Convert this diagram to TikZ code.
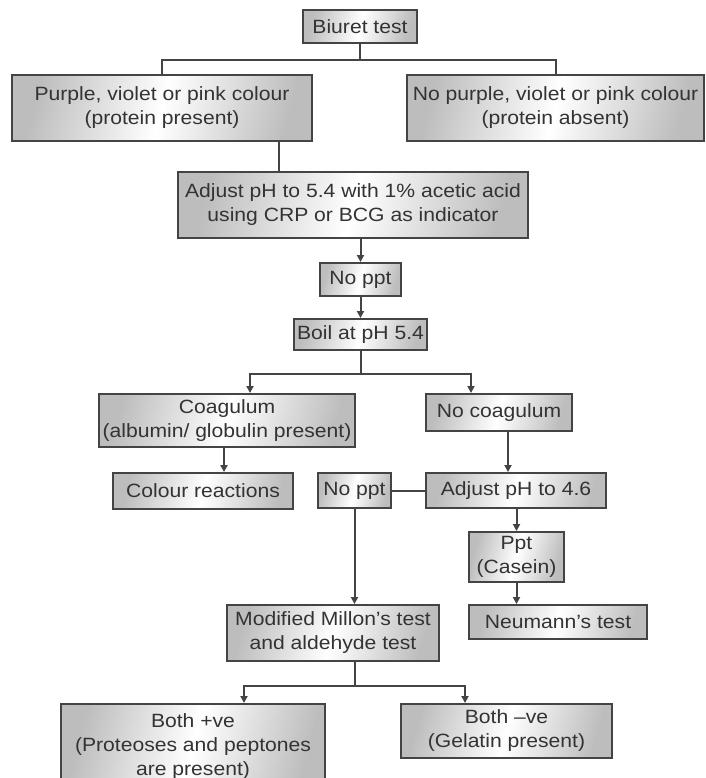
\documentclass[tikz,border=0pt]{standalone}
\usepackage{fontspec}
\setmainfont{Liberation Sans}[FakeStretch=1.1]
\usetikzlibrary{arrows.meta,calc}
\definecolor{txt}{HTML}{333333}
\definecolor{ln}{HTML}{444444}
\definecolor{edgeshade}{HTML}{BDBDBD}
\begin{document}
\begin{tikzpicture}[x=1pt,y=-1pt,
  box/.style={draw=ln, line width=1.9pt, inner sep=0pt, align=center, text=txt,
    font=\fontsize{19.2}{24}\selectfont,
    left color=edgeshade, right color=edgeshade, middle color=white, shading angle=75},
  conn/.style={draw=ln, line width=2pt},
  arr/.style={conn, -{Triangle[length=7pt,width=7pt]}}]
\clip (0,0) rectangle (705,778);
\fill[white] (0,0) rectangle (705,778);

\node[box, minimum width=114, minimum height=33] (biuret) at (360,26.5) {Biuret test};
\node[box, minimum width=300, minimum height=66] (left1) at (162,108) {Purple, violet or pink colour\\(protein present)};
\node[box, minimum width=297, minimum height=66] (right1) at (555.5,108) {No purple, violet or pink colour\\(protein absent)};
\node[box, minimum width=350, minimum height=66] (adjust1) at (353,205) {Adjust pH to 5.4 with 1\% acetic acid\\using CRP or BCG as indicator};
\node[box, minimum width=81, minimum height=33] (noppt1) at (360.5,279.5) {No ppt};
\node[box, minimum width=133, minimum height=31] (boil) at (360.5,334.5) {Boil at pH 5.4};
\node[box, minimum width=256, minimum height=53] (coag) at (227,420.5) {Coagulum\\(albumin/ globulin present)};
\node[box, minimum width=146, minimum height=37] (nocoag) at (499,412.5) {No coagulum};
\node[box, minimum width=180, minimum height=36] (colour) at (203,491) {Colour reactions};
\node[box, minimum width=73, minimum height=35] (noppt2) at (354.5,490.5) {No ppt};
\node[box, minimum width=180, minimum height=35] (adjust2) at (516,490.5) {Adjust pH to 4.6};
\node[box, minimum width=95, minimum height=50] (ppt) at (516.5,557) {Ppt\\(Casein)};
\node[box, minimum width=178, minimum height=34] (neumann) at (558,622) {Neumann’s test};
\node[box, minimum width=212, minimum height=56] (modified) at (333,633) {Modified Millon’s test\\and aldehyde test};
\node[box, minimum width=264, minimum height=85, anchor=north] (bothpos) at (193,703) {Both +ve\\(Proteoses and peptones\\are present)};
\node[box, minimum width=211, minimum height=54] (bothneg) at (506.5,731) {Both –ve\\(Gelatin present)};

\coordinate (j1) at (360,60);
\draw[conn] (biuret.south) -- (j1) -| (left1.north);
\draw[conn] (j1) -| (right1.north);

\coordinate (xA) at (279,0);
\draw[conn] (left1.south -| xA) -- (adjust1.north -| xA);
\draw[arr] (adjust1.south -| noppt1.north) -- (noppt1.north);
\draw[arr] (noppt1.south) -- (boil.north);

\coordinate (j2) at (361,374);
\coordinate (xB) at (250,0);
\coordinate (xC) at (471,0);
\draw[conn] (boil.south -| j2) -- (j2);
\draw[arr] (j2) -| (xB |- coag.north);
\draw[arr] (j2) -| (xC |- nocoag.north);

\coordinate (xD) at (224,0);
\coordinate (xE) at (508,0);
\draw[arr] (coag.south -| xD) -- (colour.north -| xD);
\draw[arr] (nocoag.south -| xE) -- (adjust2.north -| xE);
\draw[conn] (noppt2.east) -- (adjust2.west);
\draw[arr] (ppt.north |- adjust2.south) -- (ppt.north);
\draw[arr] (ppt.south) -- (ppt.south |- neumann.north);
\draw[arr] (noppt2.south) -- (noppt2.south |- modified.north);

\coordinate (j3) at (355,686);
\coordinate (xF) at (244,0);
\coordinate (xG) at (465,0);
\draw[conn] (modified.south -| j3) -- (j3);
\draw[arr] (j3) -| (xF |- bothpos.north);
\draw[arr] (j3) -| (xG |- bothneg.north);
\end{tikzpicture}
\end{document}
